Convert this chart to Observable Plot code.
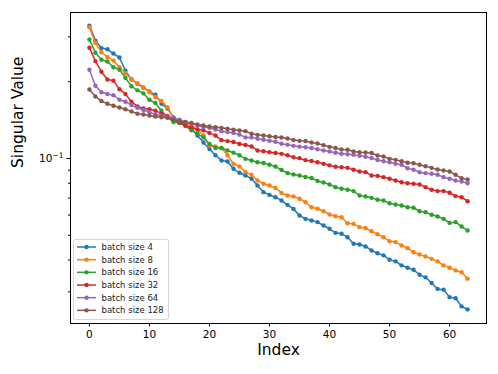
<!DOCTYPE html>
<html><head><meta charset="utf-8">
<script src="https://cdn.jsdelivr.net/npm/d3@7"></script>
<script src="https://cdn.jsdelivr.net/npm/@observablehq/plot@0.6"></script>
<style>body{margin:0;background:#fff} #chart{width:498px;height:374px}</style>
</head><body><div id="chart"></div>
<script>
const seriesNames = ["batch size 4","batch size 8","batch size 16","batch size 32","batch size 64","batch size 128"];
const colors = ["#1f77b4","#ff7f0e","#2ca02c","#d62728","#9467bd","#8c564b"];

const batch4 = [0.332,0.290,0.271,0.268,0.258,0.249,0.221,0.204,0.197,0.190,0.183,0.178,0.164,0.157,0.145,0.140,
0.136,0.131,0.123,0.1155,0.109,0.103,0.0982,0.0973,0.0911,0.0879,0.0858,0.0833,0.0784,0.0738,0.0720,0.0705,
0.0684,0.0658,0.0634,0.0598,0.0580,0.0571,0.0563,0.0546,0.0530,0.0511,0.0507,0.0491,0.0463,0.0460,0.0452,0.0436,
0.0425,0.0417,0.0401,0.0395,0.0381,0.0373,0.0366,0.0350,0.0342,0.0325,0.0308,0.0306,0.0286,0.0283,0.0263,0.0256];
const batch8 = [0.327,0.284,0.261,0.250,0.242,0.228,0.216,0.205,0.196,0.189,0.182,0.174,0.168,0.159,0.143,0.141,
0.139,0.135,0.130,0.123,0.1124,0.1115,0.110,0.103,0.0953,0.0930,0.0884,0.0863,0.0820,0.0796,0.0784,0.0766,
0.0733,0.0716,0.0710,0.0695,0.0674,0.0644,0.0635,0.0621,0.0603,0.0594,0.0588,0.0557,0.0554,0.0538,0.0534,0.0519,
0.0505,0.0491,0.0474,0.0470,0.0456,0.0445,0.0429,0.0420,0.0413,0.0404,0.0395,0.0381,0.0373,0.0364,0.0358,0.0338];
const batch16 = [0.293,0.260,0.244,0.240,0.228,0.223,0.207,0.192,0.185,0.180,0.170,0.165,0.154,0.145,0.139,0.138,
0.134,0.129,0.125,0.121,0.114,0.110,0.110,0.1075,0.1054,0.103,0.0997,0.0982,0.0967,0.0960,0.0945,0.0930,
0.0901,0.0877,0.0866,0.0858,0.0846,0.0839,0.0816,0.0805,0.0791,0.0772,0.0761,0.0754,0.0745,0.0716,0.0710,0.0701,
0.0689,0.0684,0.0668,0.0660,0.0654,0.0644,0.0641,0.0621,0.0616,0.0602,0.0592,0.0580,0.0559,0.0563,0.0541,0.0522];
const batch32 = [0.272,0.241,0.219,0.204,0.202,0.187,0.179,0.167,0.160,0.157,0.156,0.154,0.150,0.147,0.142,0.138,
0.135,0.132,0.130,0.129,0.126,0.123,0.118,0.117,0.116,0.114,0.113,0.1115,0.1075,0.1068,0.1059,0.1051,
0.1043,0.103,0.1011,0.1003,0.0985,0.0978,0.0967,0.0953,0.0940,0.0928,0.0924,0.0919,0.0903,0.0889,0.0884,0.0858,
0.0855,0.0845,0.0833,0.0820,0.0807,0.0800,0.0796,0.0791,0.0772,0.0754,0.0745,0.0745,0.0734,0.0712,0.0705,0.0680];
const batch64 = [0.223,0.193,0.182,0.179,0.177,0.170,0.167,0.162,0.158,0.155,0.152,0.149,0.147,0.146,0.144,0.142,
0.139,0.137,0.135,0.133,0.132,0.130,0.128,0.127,0.126,0.124,0.121,0.121,0.1195,0.1184,0.1173,0.1164,
0.1142,0.1133,0.1121,0.1113,0.1107,0.1099,0.1087,0.1075,0.1065,0.1053,0.1043,0.1039,0.1034,0.1025,0.1016,0.1005,
0.0987,0.0976,0.0967,0.0953,0.0945,0.0916,0.0903,0.0884,0.0876,0.0871,0.0863,0.0845,0.0833,0.0820,0.0813,0.0800];
const batch128 = [0.1865,0.175,0.168,0.164,0.161,0.1585,0.156,0.153,0.1497,0.1488,0.1474,0.1461,0.1452,0.1444,0.1419,0.1401,
0.1388,0.1378,0.1359,0.1347,0.1335,0.1326,0.1319,0.1308,0.1296,0.1288,0.1280,0.1250,0.1238,0.1231,0.1222,0.1214,
0.1209,0.1198,0.1182,0.1173,0.1171,0.1155,0.1145,0.1128,0.1111,0.1099,0.1085,0.1082,0.1065,0.1059,0.1056,0.1051,
0.1028,0.1018,0.0997,0.0988,0.0976,0.0962,0.0958,0.0945,0.0933,0.0919,0.0906,0.0897,0.0889,0.0863,0.0837,0.0827];

const xTicks = [0,10,20,30,40,50,60];
const yMajorTicks = [0.1];
const yMajorBase = ["10"];
const yMajorExp = ["\u22121"];
const yMinorTicks = [0.03,0.04,0.05,0.06,0.07,0.08,0.09,0.2,0.3];
const xLabel = "Index";
const yLabel = "Singular Value";

const seriesValues = [batch4,batch8,batch16,batch32,batch64,batch128];
const data = seriesValues.flatMap((vals, s) => vals.map((v, i) => ({index: i, value: v, series: seriesNames[s]})));

const seriesMarks = seriesNames.flatMap(name => {
  const d = data.filter(r => r.series === name);
  return [
    Plot.line(d, {x: "index", y: "value", stroke: "series", strokeWidth: 1.5}),
    Plot.dot(d, {x: "index", y: "value", fill: "series", r: 2.2})
  ];
});

const chart = Plot.plot({
  width: 498, height: 374,
  marginLeft: 70, marginRight: 12, marginTop: 12, marginBottom: 51,
  style: {fontFamily: "DejaVu Sans", fontSize: "10.5px", background: "white", color: "black"},
  x: {domain: [-3.15, 66.15], label: null},
  y: {type: "log", domain: [0.02254, 0.3737], label: null},
  color: {domain: seriesNames, range: colors},
  marks: [
    ...seriesMarks,
    Plot.frame({stroke: "black", strokeWidth: 1}),
    Plot.axisX(xTicks, {tickSize: 3.5, tickPadding: 3.5, label: null, fontSize: 10.5, tickFormat: d => String(d)}),
    Plot.axisY(yMinorTicks, {tickSize: 2, label: null, tickFormat: () => ""}),
    Plot.axisY(yMajorTicks, {tickSize: 3.5, tickPadding: 3.5, label: null, fontSize: 10.5,
      tickFormat: d => "MAJ" + yMajorTicks.indexOf(d)}),
    Plot.text([yLabel], {text: d => d, frameAnchor: "left", dx: -52, rotate: -90, fontSize: 15.5}),
    Plot.text([xLabel], {text: d => d, frameAnchor: "bottom", dy: 31, fontSize: 15.5})
  ]
});
document.getElementById("chart").appendChild(chart);

const svg = d3.select(chart);
// render major y label as 10 with a superscript exponent
svg.selectAll("text").filter(function() { return /^MAJ\d+$/.test(this.textContent); }).each(function() {
  const i = +this.textContent.slice(3);
  const t = d3.select(this);
  t.text("");
  t.append("tspan").text(yMajorBase[i]);
  t.append("tspan").attr("dy", "-0.45em").attr("font-size", "7.5px").text(yMajorExp[i]);
});

// legend (inside plot area, lower left)
const lg = svg.append("g").attr("font-family", "DejaVu Sans").attr("font-size", "8.5px").attr("text-anchor", "start");
lg.append("rect").attr("x", 73.5).attr("y", 239.5).attr("width", 95).attr("height", 80)
  .attr("rx", 2).attr("fill", "white").attr("fill-opacity", 0.8).attr("stroke", "#cccccc").attr("stroke-width", 0.8);
seriesNames.forEach((name, i) => {
  const yy = 247 + i * 12.67;
  lg.append("line").attr("x1", 77).attr("x2", 96).attr("y1", yy).attr("y2", yy).attr("stroke", colors[i]).attr("stroke-width", 1.5);
  lg.append("circle").attr("cx", 86.5).attr("cy", yy).attr("r", 2.2).attr("fill", colors[i]);
  lg.append("text").attr("x", 101.5).attr("y", yy).attr("dy", "0.35em").attr("fill", "#222").text(name);
});
</script></body></html>
